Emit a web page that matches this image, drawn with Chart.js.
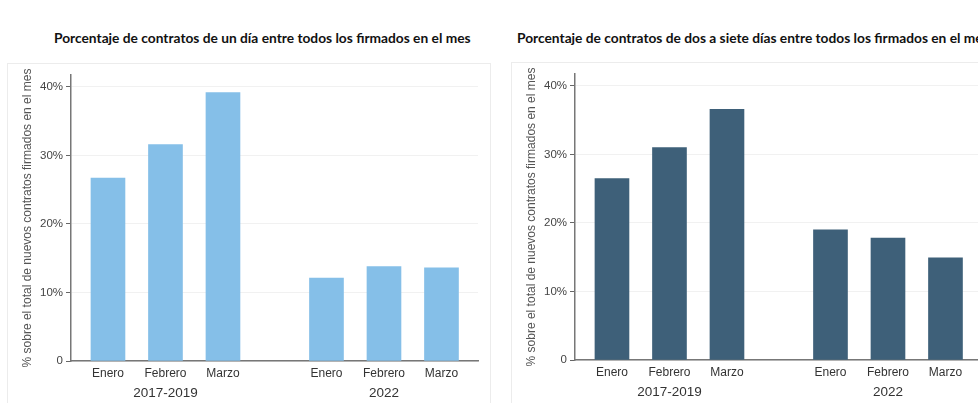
<!DOCTYPE html>
<html>
<head>
<meta charset="utf-8">
<script src="https://cdn.jsdelivr.net/npm/chart.js@4/dist/chart.umd.min.js"></script>
<style>
  body { margin: 0; background: #fff; width: 978px; height: 403px; overflow: hidden; position: relative; }
  .panel { position: absolute; top: 0; width: 490px; height: 403px; }
  .box { position: absolute; border: 1px solid #ececec; height: 400px; width: 482px; }
  .title { position: absolute; top: 29px; font: bold 13.75px Lato, "Liberation Sans", sans-serif; color: #111; white-space: nowrap; }
  canvas { position: absolute; left: 0; top: 0; }
</style>
</head>
<body>
<div class="panel" id="p1" style="left:0">
  <div class="box" style="left:7px;top:63px"></div>
  <div class="title" style="left:54px">Porcentaje de contratos de un día entre todos los firmados en el mes</div>
  <canvas id="chart1" width="490" height="403"></canvas>
</div>
<div class="panel" id="p2" style="left:504px;top:-1px">
  <div class="box" style="left:7px;top:63px"></div>
  <div class="title" style="left:13px;top:30px">Porcentaje de contratos de dos a siete días entre todos los firmados en el mes</div>
  <canvas id="chart2" width="490" height="403"></canvas>
</div>
<script>
const months = ['Enero', 'Febrero', 'Marzo'];
const periods = ['2017-2019', '2022'];
const unDia = [26.7, 31.6, 39.2, 12.1, 13.8, 13.6];
const dosASiete = [26.5, 31.0, 36.6, 19.0, 17.8, 14.9];
const yTicks = [0, 10, 20, 30, 40];
const yTitle = '% sobre el total de nuevos contratos firmados en el mes';

// bar slots: groups of three months with a wider gap between periods
const groupStep = months.length + 0.8;
function slot(g, m) { return g * groupStep + m + 1; }
const slots = [];
periods.forEach((p, g) => months.forEach((m, i) => slots.push(slot(g, i))));

// draws the period name under the middle month of each group
const periodLabels = {
    id: 'periodLabels',
    afterDraw(chart) {
        const ctx = chart.ctx;
        const xs = chart.scales.x;
        ctx.save();
        ctx.font = '13.5px "Liberation Sans", Arial, sans-serif';
        ctx.fillStyle = '#333';
        ctx.textAlign = 'center';
        ctx.textBaseline = 'middle';
        periods.forEach((p, g) => {
            ctx.fillText(p, xs.getPixelForValue(slot(g, 1)), chart.chartArea.bottom + 32);
        });
        ctx.restore();
    }
};

function makeChart(id, values, color) {
    return new Chart(document.getElementById(id), {
        type: 'bar',
        data: {
            datasets: [{
                data: values.map((v, i) => ({ x: slots[i], y: v })),
                backgroundColor: color,
                barThickness: 34
            }]
        },
        options: {
            responsive: false,
            animation: false,
            layout: { padding: { top: 75, right: 12, left: 0, bottom: 0 } },
            plugins: { legend: { display: false }, tooltip: { enabled: false } },
            scales: {
                x: {
                    type: 'linear',
                    offset: false,
                    min: slots[0] - 0.643,
                    max: slots[slots.length - 1] + 0.635,
                    afterBuildTicks: s => { s.ticks = slots.map(v => ({ value: v })); },
                    afterFit: s => { s.height = 42; },
                    grid: { display: false, drawTicks: false },
                    border: { display: true, color: '#777', width: 1.5 },
                    ticks: {
                        padding: 5,
                        color: '#333',
                        font: { family: '"Liberation Sans", Arial, sans-serif', size: 12 },
                        callback: (v) => {
                            const i = slots.indexOf(v);
                            return i >= 0 ? months[i % months.length] : '';
                        }
                    }
                },
                y: {
                    min: 0,
                    max: 41.75,
                    afterBuildTicks: s => { s.ticks = yTicks.map(v => ({ value: v })); },
                    afterFit: s => { s.width = 71; },
                    grid: { color: '#f1f1f1', tickColor: '#666', tickLength: 5, lineWidth: 1 },
                    border: { display: true, color: '#777', width: 1.5 },
                    ticks: {
                        padding: 3,
                        color: '#444',
                        font: { family: '"Liberation Sans", Arial, sans-serif', size: 11.5 },
                        callback: v => v === 0 ? '0' : v + '%'
                    },
                    title: {
                        display: true,
                        text: yTitle,
                        color: '#555',
                        padding: { top: 20, bottom: 0 },
                        font: { family: '"Liberation Sans", Arial, sans-serif', size: 12 }
                    }
                }
            }
        },
        plugins: [periodLabels]
    });
}

makeChart('chart1', unDia, '#85bfe8');
makeChart('chart2', dosASiete, '#3e6079');
</script>
</body>
</html>
